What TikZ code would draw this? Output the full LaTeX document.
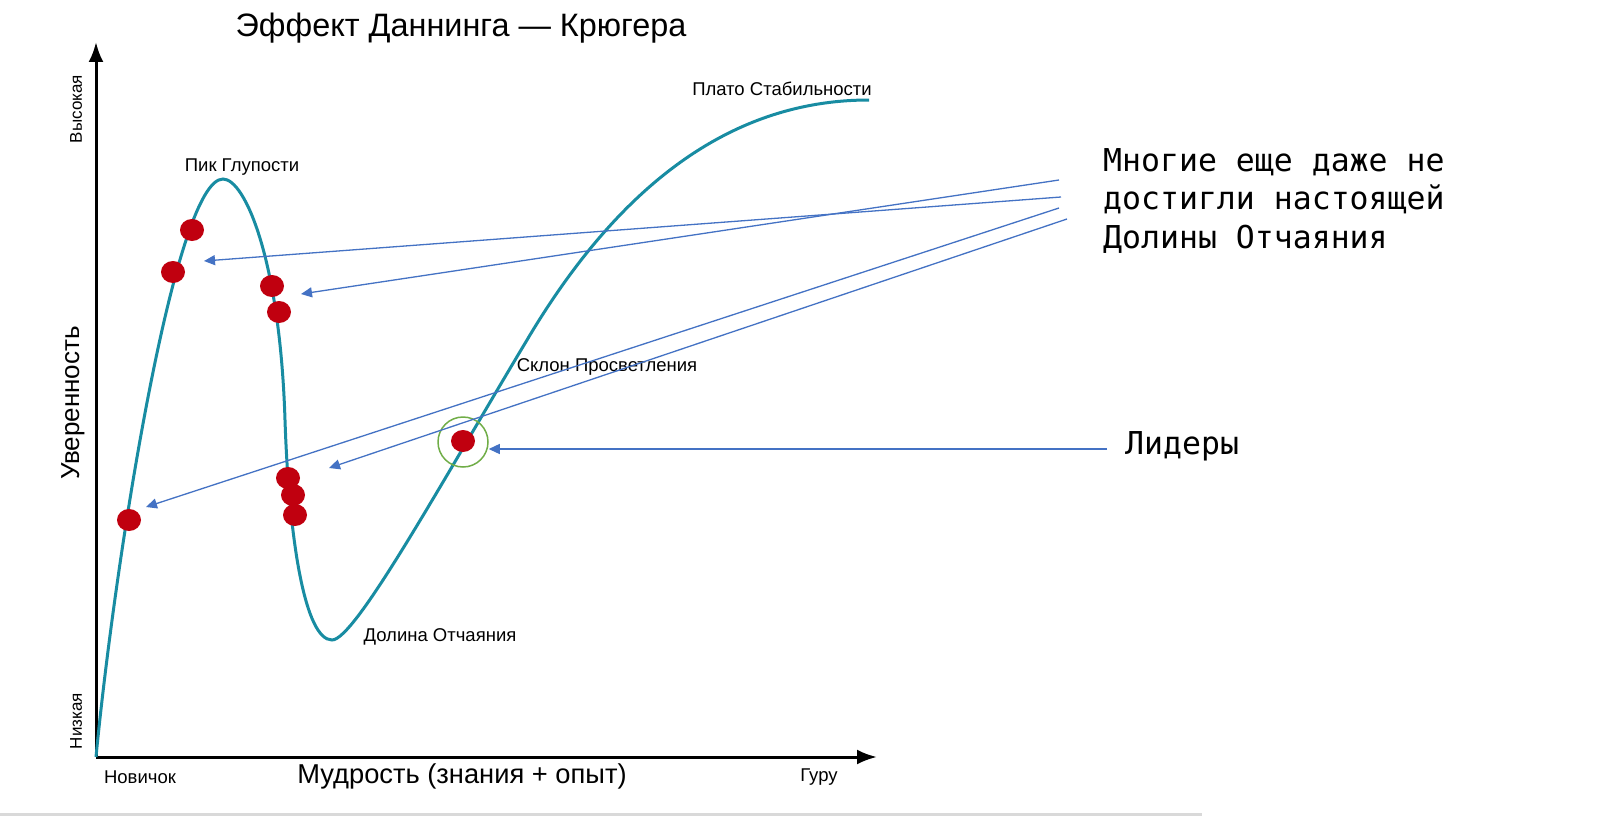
\documentclass[tikz,border=0pt]{standalone}
\usepackage{fontspec}
\setmainfont{Liberation Sans}
\newfontfamily\monofont{DejaVu Sans Mono}
\usetikzlibrary{arrows.meta,shapes.geometric}
\definecolor{curvecol}{RGB}{24,140,162}
\definecolor{dotred}{RGB}{192,0,15}
\definecolor{arrowblue}{RGB}{68,114,196}
\definecolor{ringgreen}{RGB}{112,173,71}
\definecolor{bargray}{RGB}{217,217,217}
\begin{document}
\begin{tikzpicture}[x=1pt,y=-1pt,
  axisline/.style={line width=3pt,-{Latex[length=20pt,width=15pt]}},
  curveline/.style={curvecol,line width=3pt},
  reddot/.style={ellipse,fill=dotred,draw=none,minimum width=24pt,minimum height=22pt,inner sep=0pt},
  ring/.style={circle,draw=ringgreen,line width=1.5pt,minimum size=50pt,inner sep=0pt},
  pointer/.style={arrowblue,line width=1.3pt,-{Triangle[length=11pt,width=10pt]}},
  lbl/.style={font=\fontsize{18.5}{22}\selectfont,inner sep=0pt},
  axlbl/.style={font=\fontsize{17}{20}\selectfont,inner sep=0pt},
  biglbl/.style={font=\fontsize{27.3}{32}\selectfont,inner sep=0pt},
  titlelbl/.style={font=\fontsize{32.4}{38}\selectfont,inner sep=0pt},
  monotxt/.style={font=\monofont\fontsize{31.5}{38.5}\selectfont,inner sep=0pt,align=left}
]
\useasboundingbox (0,0) rectangle (1600,816);
\fill[white] (0,0) rectangle (1600,816);
\fill[bargray] (0,813) rectangle (1202,816);

% axes
\coordinate (O) at (96,757);
\coordinate (ytip) at (96,42);
\coordinate (xtip) at (877,757);
\draw[axisline] (O) -- (ytip);
\draw[axisline] (O) -- (xtip);

% curve
\draw[curveline] (96,757) .. controls (115,560) and (175,179) .. (223,179)
  .. controls (245,179) and (280,260) .. (285,420)
  .. controls (289,540) and (305,640) .. (332,640)
  .. controls (355,640) and (440,485) .. (527,340)
  .. controls (610,200) and (720,100) .. (869,100);

% dots
\node[reddot] (d1) at (129,520) {};
\node[reddot] (d2) at (173,272) {};
\node[reddot] (d3) at (192,230) {};
\node[reddot] (d4) at (272,286) {};
\node[reddot] (d5) at (279,312) {};
\node[reddot] (d6) at (288,478) {};
\node[reddot] (d7) at (293,495) {};
\node[reddot] (d8) at (295,515) {};
\node[reddot] (lead) at (463,441) {};
\node[ring] (leadring) at (463,442) {};

% labels
\node[titlelbl] (title) at (461,28) {Эффект Даннинга — Крюгера};
\node[axlbl,rotate=90] (high) at (76,109) {Высокая};
\node[axlbl,rotate=90] (low) at (76,721) {Низкая};
\node[biglbl,rotate=90,font=\fontsize{26}{30}\selectfont] (conf) at (73,403) {Уверенность};
\node[lbl] (novice) at (140,777) {Новичок};
\node[lbl] (guru) at (819,777) {Гуру};
\node[biglbl] (wisdom) at (462,776) {Мудрость (знания + опыт)};
\node[lbl] (peak) at (242,167) {Пик Глупости};
\node[lbl] (plateau) at (782,89) {Плато Стабильности};
\node[lbl] (slope) at (607,367) {Склон Просветления};
\node[lbl] (valley) at (440,637) {Долина Отчаяния};

\node[monotxt,anchor=north west] (many) at (1103,148) {Многие еще даже не\\достигли настоящей\\Долины Отчаяния};
\node[monotxt,anchor=west] (leaders) at (1125,446) {Лидеры};

% pointers
\coordinate (s1) at (1061,197); \coordinate (t1) at (204,261);
\coordinate (s2) at (1059,180); \coordinate (t2) at (301,294);
\coordinate (s3) at (1059,208); \coordinate (t3) at (146,507);
\coordinate (s4) at (1067,219); \coordinate (t4) at (329,468);
\coordinate (s5) at (1107,449);
\draw[pointer] (s1) -- (t1);
\draw[pointer] (s2) -- (t2);
\draw[pointer] (s3) -- (t3);
\draw[pointer] (s4) -- (t4);
\draw[pointer] (s5) -- (leadring.east |- s5);
\end{tikzpicture}
\end{document}
